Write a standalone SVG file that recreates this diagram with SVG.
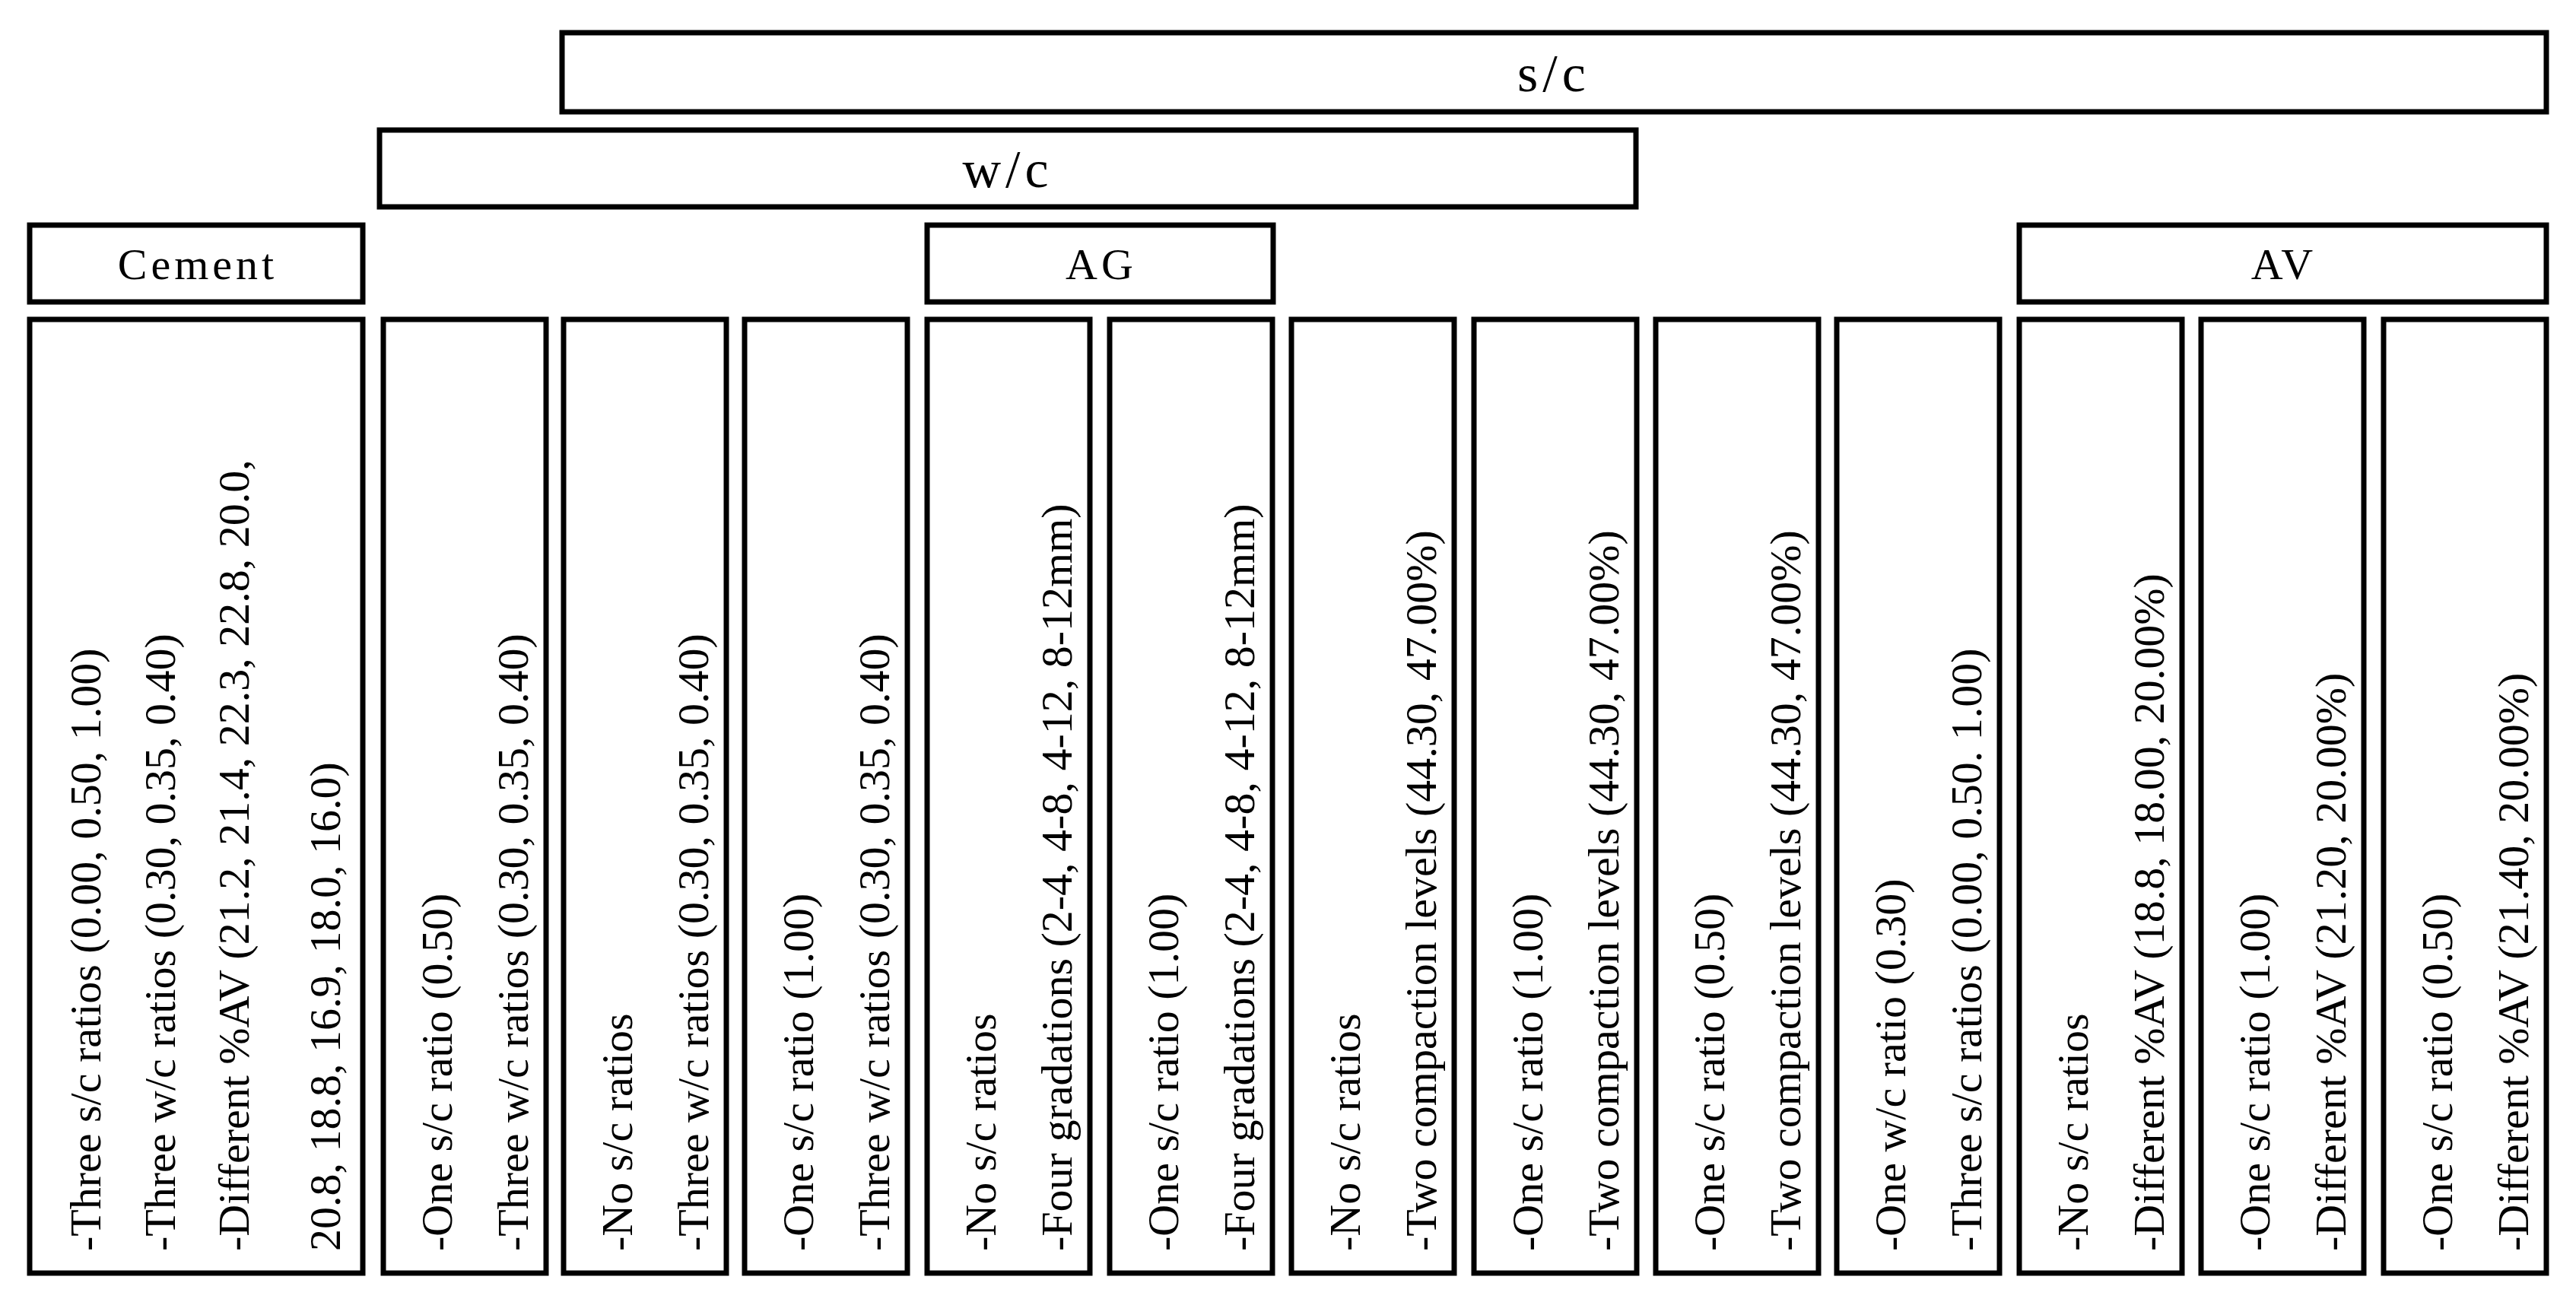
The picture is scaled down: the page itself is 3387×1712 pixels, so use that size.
<svg xmlns="http://www.w3.org/2000/svg" width="3387" height="1712" viewBox="0 0 3387 1712">
<style>
rect{fill:#fff;stroke:#000;stroke-width:7}
text{font-family:"Liberation Serif",serif;fill:#000}
.h{font-size:70px;text-anchor:middle;letter-spacing:6px}
.hs{font-size:58px;text-anchor:middle;letter-spacing:5px}
.v{font-size:58px}
</style>
<rect width="3387" height="1712" style="fill:#fff;stroke:none"/>
<g id="sc"><rect x="739" y="43" width="2609" height="104"/><text class="h" x="2043" y="120">s/c</text></g>
<g id="wc"><rect x="499" y="171" width="1652" height="101"/><text class="h" x="1325" y="246">w/c</text></g>
<g id="cement"><rect x="39" y="296" width="438" height="101"/><text class="hs" x="260" y="367">Cement</text></g>
<g id="ag"><rect x="1219" y="296" width="455" height="101"/><text class="hs" x="1448" y="367">AG</text></g>
<g id="av"><rect x="2655" y="296" width="693" height="101"/><text class="hs" x="3003" y="367">AV</text></g>
<g id="col0"><rect x="39" y="420" width="438" height="1254"/>
<text class="v" transform="translate(132,1645) rotate(-90)">-Three s/c ratios (0.00, 0.50, 1.00)</text>
<text class="v" transform="translate(230,1645) rotate(-90)">-Three w/c ratios (0.30, 0.35, 0.40)</text>
<text class="v" transform="translate(327,1645) rotate(-90)">-Different %AV (21.2, 21.4, 22.3, 22.8, 20.0,</text>
<text class="v" transform="translate(447,1645) rotate(-90)">20.8, 18.8, 16.9, 18.0, 16.0)</text></g>
<g id="col1"><rect x="504" y="420" width="214" height="1254"/>
<text class="v" transform="translate(594,1645) rotate(-90)">-One s/c ratio (0.50)</text>
<text class="v" transform="translate(694,1645) rotate(-90)">-Three w/c ratios (0.30, 0.35, 0.40)</text></g>
<g id="col2"><rect x="741" y="420" width="214" height="1254"/>
<text class="v" transform="translate(831,1645) rotate(-90)">-No s/c ratios</text>
<text class="v" transform="translate(931,1645) rotate(-90)">-Three w/c ratios (0.30, 0.35, 0.40)</text></g>
<g id="col3"><rect x="979" y="420" width="214" height="1254"/>
<text class="v" transform="translate(1069,1645) rotate(-90)">-One s/c ratio (1.00)</text>
<text class="v" transform="translate(1169,1645) rotate(-90)">-Three w/c ratios (0.30, 0.35, 0.40)</text></g>
<g id="col4"><rect x="1219" y="420" width="214" height="1254"/>
<text class="v" transform="translate(1309,1645) rotate(-90)">-No s/c ratios</text>
<text class="v" transform="translate(1409,1645) rotate(-90)">-Four gradations (2-4, 4-8, 4-12, 8-12mm)</text></g>
<g id="col5"><rect x="1459" y="420" width="214" height="1254"/>
<text class="v" transform="translate(1549,1645) rotate(-90)">-One s/c ratio (1.00)</text>
<text class="v" transform="translate(1649,1645) rotate(-90)">-Four gradations (2-4, 4-8, 4-12, 8-12mm)</text></g>
<g id="col6"><rect x="1698" y="420" width="214" height="1254"/>
<text class="v" transform="translate(1788,1645) rotate(-90)">-No s/c ratios</text>
<text class="v" transform="translate(1888,1645) rotate(-90)">-Two compaction levels (44.30, 47.00%)</text></g>
<g id="col7"><rect x="1938" y="420" width="214" height="1254"/>
<text class="v" transform="translate(2028,1645) rotate(-90)">-One s/c ratio (1.00)</text>
<text class="v" transform="translate(2128,1645) rotate(-90)">-Two compaction levels (44.30, 47.00%)</text></g>
<g id="col8"><rect x="2177" y="420" width="214" height="1254"/>
<text class="v" transform="translate(2267,1645) rotate(-90)">-One s/c ratio (0.50)</text>
<text class="v" transform="translate(2367,1645) rotate(-90)">-Two compaction levels (44.30, 47.00%)</text></g>
<g id="col9"><rect x="2415" y="420" width="214" height="1254"/>
<text class="v" transform="translate(2505,1645) rotate(-90)">-One w/c ratio (0.30)</text>
<text class="v" transform="translate(2605,1645) rotate(-90)">-Three s/c ratios (0.00, 0.50. 1.00)</text></g>
<g id="col10"><rect x="2655" y="420" width="214" height="1254"/>
<text class="v" transform="translate(2745,1645) rotate(-90)">-No s/c ratios</text>
<text class="v" transform="translate(2845,1645) rotate(-90)">-Different %AV (18.8, 18.00, 20.00%)</text></g>
<g id="col11"><rect x="2894" y="420" width="214" height="1254"/>
<text class="v" transform="translate(2984,1645) rotate(-90)">-One s/c ratio (1.00)</text>
<text class="v" transform="translate(3084,1645) rotate(-90)">-Different %AV (21.20, 20.00%)</text></g>
<g id="col12"><rect x="3134" y="420" width="214" height="1254"/>
<text class="v" transform="translate(3224,1645) rotate(-90)">-One s/c ratio (0.50)</text>
<text class="v" transform="translate(3324,1645) rotate(-90)">-Different %AV (21.40, 20.00%)</text></g>
<g id="connectors"/>
</svg>
